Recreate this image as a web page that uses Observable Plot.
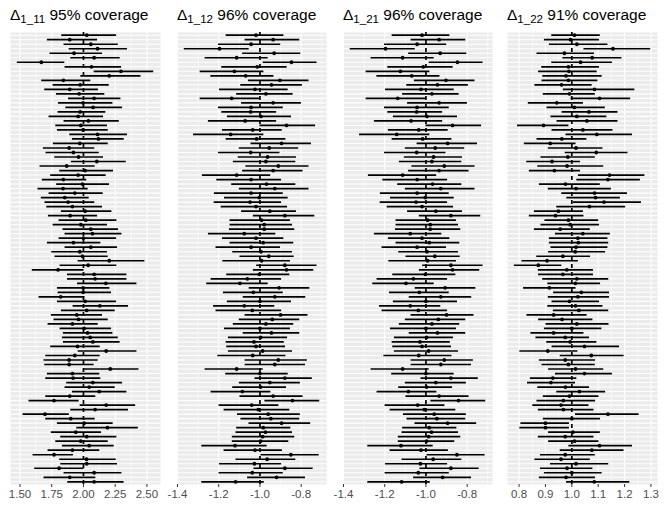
<!DOCTYPE html>
<html><head><meta charset="utf-8">
<script src="https://cdn.jsdelivr.net/npm/d3@7"></script>
<script src="https://cdn.jsdelivr.net/npm/@observablehq/plot@0.6"></script>
<style>
body{margin:0;background:#fff;font-family:"Liberation Sans",Arial,sans-serif;}
#wrap{display:flex;width:664px;height:522px;overflow:hidden;}
.col{width:166px;flex:none;}
.title{height:30px;line-height:30px;font-size:15.5px;color:#000;white-space:nowrap;overflow:visible;}
.title sub{font-size:11.5px;line-height:0;vertical-align:-3px;}
svg{display:block;}
</style></head><body><div id="wrap"></div>
<script>
// Panel Δ1_11 (true value 2)
const truth11 = 2;
const lo11 = [1.829,1.716,1.847,1.887,1.737,1.900,1.479,1.855,2.084,1.979,
1.671,1.761,1.695,1.787,1.882,1.803,1.861,1.800,1.729,1.847,
1.782,1.795,1.892,1.913,1.763,1.684,1.705,1.774,1.905,1.658,
1.813,1.742,1.676,1.789,1.642,1.729,1.668,1.697,1.711,1.826,
1.724,1.808,1.761,1.839,1.855,1.808,1.716,1.855,1.750,1.776,
1.958,1.816,1.597,1.874,1.874,1.953,1.795,1.800,1.650,1.795,
1.918,1.826,1.747,1.768,1.721,1.816,1.842,1.834,1.842,1.742,
1.958,1.703,1.689,1.695,2.000,1.716,1.703,1.868,1.855,1.913,
1.703,1.571,1.974,1.900,1.524,1.703,1.795,1.947,1.747,1.821,
1.782,1.834,1.721,1.603,1.813,1.821,1.616,1.847,1.689,1.876];
const est11 = [2.026,1.892,2.058,2.111,1.926,2.084,1.668,2.063,2.295,2.203,
1.842,1.974,1.892,1.966,2.084,1.997,2.076,1.974,1.958,2.039,
1.979,1.997,2.111,2.118,1.971,1.887,1.921,1.961,2.105,1.868,
2.013,1.958,1.842,1.992,1.839,1.932,1.853,1.879,1.913,2.013,
1.895,2.018,1.979,2.058,2.071,2.000,1.921,2.058,1.971,1.992,
2.203,2.037,1.800,2.084,2.092,2.176,1.997,1.997,1.821,2.013,
2.129,2.026,1.947,1.961,1.913,2.005,2.032,2.053,2.074,1.953,
2.179,1.932,1.887,1.887,2.211,1.913,1.918,2.074,2.045,2.124,
1.892,1.768,2.179,2.092,1.697,1.900,2.005,2.189,1.939,2.026,
1.979,2.045,1.913,1.768,2.024,2.026,1.808,2.084,1.892,2.084];
const hi11 = [2.261,2.111,2.274,2.347,2.150,2.289,1.853,2.300,2.553,2.453,
2.058,2.203,2.118,2.168,2.295,2.232,2.308,2.176,2.158,2.282,
2.189,2.195,2.347,2.321,2.195,2.089,2.124,2.158,2.337,2.092,
2.237,2.179,2.026,2.205,2.037,2.155,2.045,2.089,2.150,2.224,
2.111,2.263,2.189,2.276,2.303,2.261,2.137,2.268,2.189,2.195,
2.484,2.263,2.005,2.342,2.342,2.421,2.208,2.221,2.011,2.261,
2.355,2.250,2.150,2.195,2.116,2.221,2.232,2.274,2.289,2.132,
2.421,2.132,2.116,2.084,2.437,2.129,2.137,2.308,2.250,2.342,
2.097,1.966,2.411,2.355,1.889,2.092,2.234,2.432,2.142,2.263,
2.195,2.242,2.129,1.921,2.258,2.268,2.005,2.303,2.097,2.320];
const ticks11 = [1.50,1.75,2.00,2.25,2.50];

// Panel Δ1_12 (true value -1)
const truth12 = -1;
const lo12 = [-1.164,-1.072,-1.201,-1.367,-1.084,-1.266,-0.984,-1.185,-1.290,-1.238,
-1.056,-1.093,-1.196,-1.113,-1.290,-1.089,-1.201,-1.185,-1.158,-1.250,
-1.000,-1.182,-1.322,-1.164,-1.043,-1.100,-1.201,-1.105,-1.129,-1.068,
-1.084,-1.279,-1.209,-1.137,-1.100,-1.221,-1.172,-1.222,-1.188,-1.089,
-1.032,-1.145,-1.145,-1.148,-1.250,-1.182,-1.145,-1.213,-1.132,-1.097,
-1.180,-1.016,-1.032,-1.161,-1.237,-1.258,-1.052,-1.177,-1.081,-1.158,
-1.225,-1.213,-1.072,-1.100,-1.129,-1.172,-1.081,-1.153,-1.164,-1.161,
-1.153,-1.204,-1.072,-1.072,-1.266,-1.166,-1.024,-1.100,-1.132,-1.237,
-1.097,-0.976,-1.198,-1.174,-1.109,-1.092,-1.053,-1.113,-1.116,-1.134,
-1.134,-1.282,-1.174,-0.995,-1.116,-1.196,-1.029,-1.198,-1.060,-1.282];
const est12 = [-1.019,-0.936,-1.043,-1.196,-0.931,-1.113,-0.847,-1.013,-1.124,-1.069,
-0.903,-0.944,-1.024,-0.971,-1.137,-0.936,-1.043,-1.045,-0.995,-1.072,
-0.871,-1.035,-1.142,-1.016,-0.895,-0.955,-1.045,-0.963,-0.971,-0.911,
-0.936,-1.113,-1.043,-0.968,-0.928,-1.043,-1.003,-1.048,-1.019,-0.952,
-0.879,-0.992,-0.979,-0.979,-1.076,-1.019,-0.984,-1.043,-0.995,-0.957,
-0.992,-0.879,-0.871,-1.003,-1.061,-1.097,-0.907,-1.032,-0.928,-1.000,
-1.076,-1.037,-0.900,-0.940,-0.971,-1.000,-0.944,-0.997,-1.029,-1.019,
-0.987,-1.035,-0.911,-0.928,-1.113,-1.000,-0.879,-0.952,-0.997,-1.085,
-0.936,-0.842,-1.040,-1.008,-0.960,-0.947,-0.895,-0.984,-0.973,-0.987,
-0.997,-1.121,-1.024,-0.850,-0.965,-1.027,-0.879,-1.037,-0.919,-1.118];
const hi12 = [-0.884,-0.807,-0.899,-1.052,-0.802,-0.960,-0.723,-0.868,-0.981,-0.932,
-0.762,-0.794,-0.863,-0.839,-0.997,-0.799,-0.887,-0.919,-0.847,-0.919,
-0.730,-0.892,-0.981,-0.874,-0.750,-0.812,-0.903,-0.823,-0.826,-0.762,
-0.791,-0.948,-0.895,-0.826,-0.762,-0.887,-0.863,-0.895,-0.866,-0.823,
-0.734,-0.852,-0.842,-0.831,-0.923,-0.884,-0.836,-0.900,-0.842,-0.834,
-0.852,-0.723,-0.739,-0.855,-0.895,-0.960,-0.758,-0.887,-0.778,-0.847,
-0.928,-0.895,-0.767,-0.807,-0.836,-0.852,-0.807,-0.866,-0.882,-0.876,
-0.842,-0.874,-0.770,-0.779,-0.984,-0.863,-0.746,-0.804,-0.871,-0.947,
-0.791,-0.710,-0.908,-0.855,-0.804,-0.807,-0.754,-0.850,-0.842,-0.831,
-0.860,-0.965,-0.891,-0.713,-0.826,-0.895,-0.742,-0.887,-0.779,-0.979];
const ticks12 = [-1.4,-1.2,-1.0,-0.8];

// Panel Δ1_21 (true value -1) – intervals identical to Δ1_12 in the picture
const truth21 = -1;
const lo21 = lo12.slice();
const est21 = est12.slice();
const hi21 = hi12.slice();
const ticks21 = [-1.4,-1.2,-1.0,-0.8];

// Panel Δ1_22 (true value 1)
const truth22 = 1;
const lo22 = [0.924,0.896,0.915,1.046,0.868,0.966,0.924,0.886,0.874,0.890,
0.887,0.860,0.968,0.892,0.997,0.835,0.906,0.963,0.921,0.944,
0.794,0.925,0.978,0.868,0.820,0.911,0.975,0.883,0.829,0.871,
0.839,1.025,1.019,0.877,0.911,0.962,0.981,1.006,0.943,0.858,
0.839,0.898,0.883,0.858,0.938,0.915,0.915,0.921,0.912,0.867,
0.811,0.782,0.873,0.874,0.890,0.909,0.817,0.931,0.911,0.925,
0.909,0.930,0.830,0.874,0.902,0.896,0.845,0.864,0.905,0.925,
0.803,0.956,0.877,0.887,0.912,0.938,0.843,0.832,0.871,0.943,
0.892,0.868,0.852,0.873,1.014,0.892,0.807,0.803,0.912,0.873,
0.912,0.989,0.956,0.881,0.860,0.919,0.881,0.896,0.877,0.980];
const est22 = [1.010,0.995,1.019,1.156,0.972,1.077,1.033,0.987,0.989,0.978,
0.987,0.961,1.086,0.991,1.105,0.943,1.010,1.065,1.019,1.057,
0.893,1.042,1.095,0.962,0.918,1.016,1.093,0.985,0.925,0.982,
0.934,1.143,1.137,0.976,1.016,1.086,1.090,1.122,1.067,0.949,
0.938,0.987,0.994,0.956,1.042,1.023,1.025,1.016,1.013,0.966,
0.906,0.873,0.981,0.966,1.019,1.014,0.915,1.036,1.023,0.991,
1.014,1.027,0.931,0.963,1.019,1.000,0.931,0.975,0.994,1.048,
0.909,1.074,0.975,0.987,1.014,1.048,0.928,0.921,0.976,1.029,
0.991,0.968,0.959,0.968,1.137,1.000,0.900,0.900,1.004,0.975,
1.010,1.105,1.076,0.975,0.959,1.016,0.982,1.000,0.978,1.085];
const hi22 = [1.108,1.105,1.137,1.299,1.086,1.190,1.154,1.105,1.096,1.115,
1.099,1.077,1.239,1.089,1.223,1.044,1.127,1.175,1.133,1.175,
0.989,1.156,1.230,1.057,1.016,1.118,1.213,1.089,1.033,1.121,
1.033,1.277,1.260,1.108,1.150,1.211,1.184,1.264,1.204,1.044,
1.046,1.102,1.105,1.070,1.146,1.137,1.140,1.137,1.128,1.071,
1.025,0.962,1.082,1.082,1.140,1.109,1.016,1.143,1.143,1.105,
1.118,1.140,1.058,1.080,1.141,1.114,1.046,1.067,1.095,1.181,
1.023,1.198,1.090,1.089,1.121,1.154,1.019,1.014,1.067,1.128,
1.103,1.090,1.065,1.084,1.255,1.109,0.991,0.991,1.108,1.084,
1.103,1.230,1.198,1.089,1.070,1.140,1.080,1.115,1.090,1.220];
const ticks22 = [0.8,0.9,1.0,1.1,1.2,1.3];

const subs = ["1_11","1_12","1_21","1_22"];
const coverages = ["95% coverage","96% coverage","96% coverage","91% coverage"];

const panels = [
  {lo:lo11, est:est11, hi:hi11, truth:truth11, ticks:ticks11, digits:2, ml:10, mr:6},
  {lo:lo12, est:est12, hi:hi12, truth:truth12, ticks:ticks12, digits:1, ml:11, mr:6},
  {lo:lo21, est:est21, hi:hi21, truth:truth21, ticks:ticks21, digits:1, ml:11, mr:6},
  {lo:lo22, est:est22, hi:hi22, truth:truth22, ticks:ticks22, digits:1, ml:9, mr:7}
];

const wrap = document.getElementById("wrap");
panels.forEach((p, k) => {
  const col = document.createElement("div");
  col.className = "col";
  const t = document.createElement("div");
  t.className = "title";
  t.style.paddingLeft = p.ml + "px";
  t.innerHTML = "Δ<sub>" + subs[k] + "</sub> " + coverages[k];
  col.appendChild(t);

  const n = p.lo.length;
  const rows = d3.range(n).map(i => ({i, lo: p.lo[i], est: p.est[i], hi: p.hi[i]}));
  const mn = Math.min(d3.min(p.lo), p.truth), mx = Math.max(d3.max(p.hi), p.truth);
  const pad = (mx - mn) * 0.05;
  const domain = [mn - pad, mx + pad];
  const step = p.ticks[1] - p.ticks[0];
  const minor = [];
  for (let j = -1; j < p.ticks.length; j++) {
    const v = p.ticks[0] + (j + 0.5) * step;
    if (v >= domain[0] && v <= domain[1]) minor.push(v);
  }
  const chart = Plot.plot({
    width: 166, height: 492,
    marginTop: 2, marginBottom: 38, marginLeft: p.ml, marginRight: p.mr,
    style: {fontFamily: "'Liberation Sans', Arial, sans-serif", fontSize: "11.5px", color: "#4D4D4D", background: "transparent", overflow: "visible"},
    x: {domain, label: null, axis: null},
    y: {type: "point", domain: d3.range(n), padding: 0.6, axis: null},
    marks: [
      Plot.frame({fill: "#EBEBEB", stroke: "none"}),
      Plot.ruleX(minor, {stroke: "#fff", strokeWidth: 0.55}),
      Plot.ruleX(p.ticks, {stroke: "#fff", strokeWidth: 1.07}),
      Plot.ruleY(rows, {y: "i", stroke: "#fff", strokeWidth: 1.07}),
      Plot.ruleY(rows, {y: "i", x1: "lo", x2: "hi", stroke: "#000", strokeWidth: 1.7}),
      Plot.ruleX([p.truth], {stroke: "#000", strokeWidth: 1.7, strokeDasharray: "4,4"}),
      Plot.dot(rows, {x: "est", y: "i", r: 1.9, fill: "#000", stroke: "none"}),
      Plot.axisX(p.ticks, {tickSize: 3, tickPadding: 2, tickFormat: d => d.toFixed(p.digits), stroke: "#333333", fill: "#4D4D4D", fontSize: 11.5})
    ]
  });
  col.appendChild(chart);
  wrap.appendChild(col);
});
</script></body></html>
